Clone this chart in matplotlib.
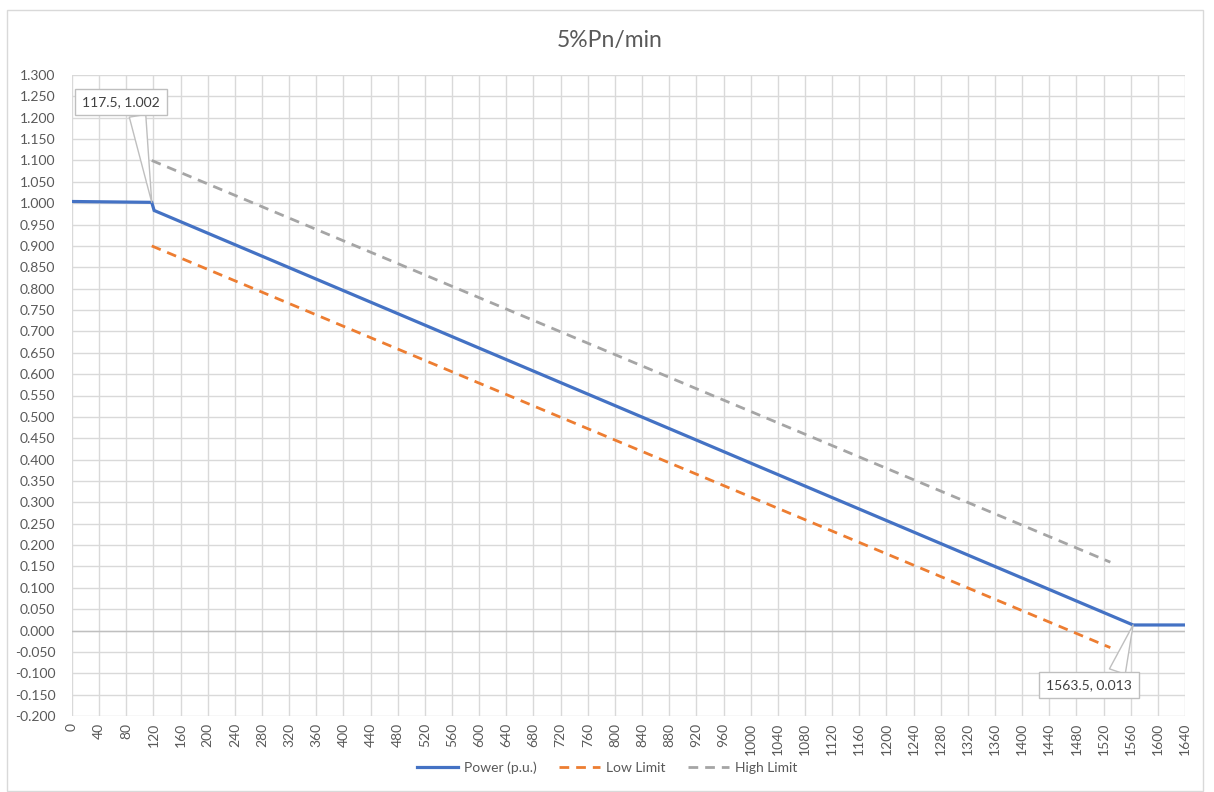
import matplotlib
matplotlib.use("Agg")
import matplotlib.pyplot as plt
from matplotlib.patches import Rectangle
import numpy as np

plt.rcParams['font.family'] = ['Lato', 'DejaVu Sans']

# ---- data ----
power_t = [0, 117.5, 121, 1563.5, 1640]
power_v = [1.004, 1.002, 0.983, 0.013, 0.013]
low_t = [117.5, 1530]
low_v = [0.900, -0.040]
high_t = [117.5, 1530]
high_v = [1.100, 0.160]
ann1 = (117.5, 1.002)
ann2 = (1563.5, 0.013)
x_ticks = list(range(0, 1641, 40))
y_ticks = [round(-0.2 + 0.05 * i, 3) for i in range(31)]
title = "5%Pn/min"
series_names = ["Power (p.u.)", "Low Limit", "High Limit"]

W, H = 1214, 792
fig = plt.figure(figsize=(W / 100, H / 100), dpi=100)
fig.patch.set_facecolor('white')
fig.patches.append(Rectangle((7 / W, 1 - 791 / H), (1203 - 7) / W, (791 - 10) / H,
                             transform=fig.transFigure, fill=False,
                             edgecolor='#d9d9d9', linewidth=1))

ax = fig.add_axes([72 / W, 1 - 716 / H, (1185 - 72) / W, (716 - 75) / H])
ax.set_xlim(0, 1640)
ax.set_ylim(-0.2, 1.3)
ax.set_xticks(x_ticks)
ax.set_xticklabels([str(t) for t in x_ticks], rotation=90)
ax.set_yticks(y_ticks)
ax.set_yticklabels([f"{v:.3f}" for v in y_ticks])
ax.tick_params(length=0, labelsize=10, colors='#595959')
ax.tick_params(axis='y', pad=12)
ax.tick_params(axis='x', pad=5)
ax.grid(True, color='#d9d9d9', linewidth=1)
ax.set_axisbelow(True)
for s in ax.spines.values():
    s.set_visible(False)
ax.axhline(0, color='#bfbfbf', linewidth=1, zorder=1)

ax.plot(power_t, power_v, color='#4472C4', linewidth=2.3, label=series_names[0],
        solid_joinstyle='miter', zorder=4)
ax.plot(low_t, low_v, color='#ED7D31', linewidth=2, linestyle=(0, (3.5, 2.5)),
        label=series_names[1], zorder=3)
ax.plot(high_t, high_v, color='#A5A5A5', linewidth=2, linestyle=(0, (3.5, 2.5)),
        label=series_names[2], zorder=3)

bbox = dict(boxstyle='square,pad=0.5', fc='white', ec='#bfbfbf', lw=1)
ax.annotate(f"{ann1[0]}, {ann1[1]:.3f}", xy=ann1, xytext=(-31, 100),
            textcoords='offset pixels', ha='center', va='center',
            fontsize=10, color='#404040', bbox=bbox, zorder=6,
            arrowprops=dict(arrowstyle='wedge,tail_width=1.2,shrink_factor=0.5',
                            fc='white', ec='#bfbfbf', lw=1,
                            relpos=(0.7, 0.0), shrinkA=0, shrinkB=0))
ax.annotate(f"{ann2[0]}, {ann2[1]:.3f}", xy=ann2, xytext=(-44, -60),
            textcoords='offset pixels', ha='center', va='center',
            fontsize=10, color='#404040', bbox=bbox, zorder=6,
            arrowprops=dict(arrowstyle='wedge,tail_width=1.2,shrink_factor=0.5',
                            fc='white', ec='#bfbfbf', lw=1,
                            relpos=(0.8, 1.0), shrinkA=0, shrinkB=0))

fig.text(0.502, 1 - 40 / H, title, ha='center', va='center', fontsize=16.5, color='#595959')

leg = fig.legend(loc='center', bbox_to_anchor=(607 / W, 1 - 768 / H), ncol=3, frameon=False,
                 fontsize=10, handlelength=3.0, columnspacing=1.6, handletextpad=0.4)
for t in leg.get_texts():
    t.set_color('#595959')

fig.savefig('out.png', dpi=100)
